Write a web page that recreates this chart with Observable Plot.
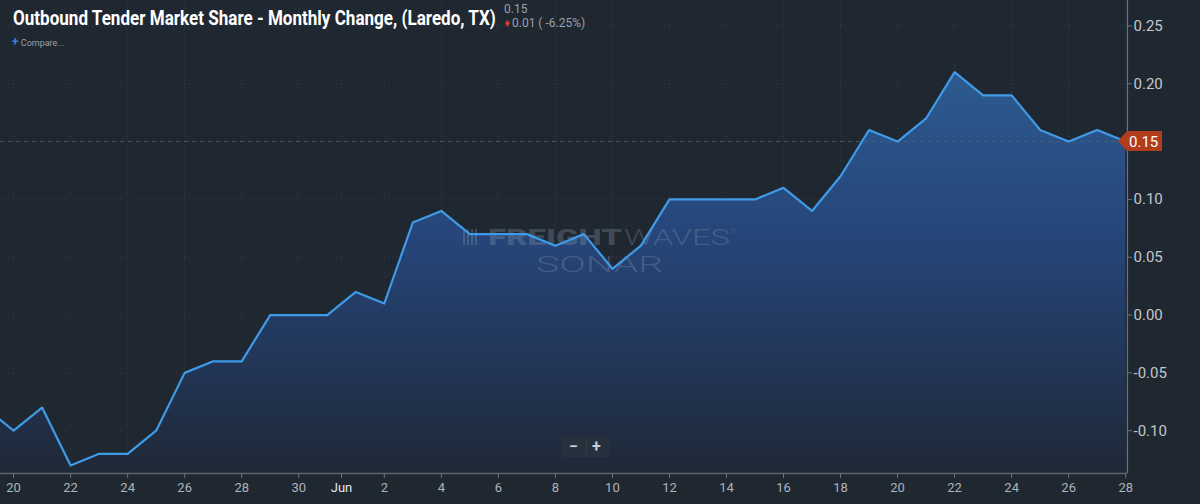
<!DOCTYPE html>
<html>
<head>
<meta charset="utf-8">
<script src="https://cdn.jsdelivr.net/npm/d3@7"></script>
<script src="https://cdn.jsdelivr.net/npm/@observablehq/plot@0.6"></script>
<style>
  html, body { margin: 0; padding: 0; background: #1f2731; }
  #wrap { position: relative; width: 1200px; height: 504px; overflow: hidden; background: #1f2731; }
  .val { position: absolute; color: #9aa1a9; font-family: Roboto, sans-serif; font-size: 12px; line-height: 12px; white-space: nowrap; }
  #dn { position: absolute; left: 505px; top: 20px; width: 5px; height: 7px; background: #e0342c; clip-path: polygon(50% 0, 100% 45%, 50% 100%, 0 45%); }
  #compare { position: absolute; left: 12px; top: 35px; color: #9aa1a9; font-family: Roboto, sans-serif; font-size: 9px; white-space: nowrap; }
  #compare b { color: #3d7fd8; font-size: 12px; font-weight: bold; }
  #zoomctl { position: absolute; left: 562px; top: 437px; width: 48px; height: 20px; background: #27313d; border-radius: 2px; color: #c9cdd1; font-family: Roboto, sans-serif; font-size: 16px; font-weight: bold; line-height: 19px; }
  #zoomctl span { position: absolute; top: 0; }
  #zoomctl i { position: absolute; left: 24px; top: 3px; height: 14px; border-left: 1px dotted #3a4552; }
</style>
</head>
<body>
<div id="wrap">
  <div id="chart"></div>
  <div class="val" style="left:504px; top:3px;">0.15</div>
  <div id="dn"></div>
  <div class="val" style="left:512px; top:17px;">0.01 ( -6.25%)</div>
  <div id="compare"><b>+</b> Compare...</div>
  <div id="zoomctl"><span style="left:7px">&minus;</span><i></i><span style="left:30px">+</span></div>
</div>
<script>
// ---- data ----
const days = [
  "2023-05-19","2023-05-20","2023-05-21","2023-05-22","2023-05-23","2023-05-24","2023-05-25",
  "2023-05-26","2023-05-27","2023-05-28","2023-05-29","2023-05-30","2023-05-31",
  "2023-06-01","2023-06-02","2023-06-03","2023-06-04","2023-06-05","2023-06-06","2023-06-07",
  "2023-06-08","2023-06-09","2023-06-10","2023-06-11","2023-06-12","2023-06-13","2023-06-14",
  "2023-06-15","2023-06-16","2023-06-17","2023-06-18","2023-06-19","2023-06-20","2023-06-21",
  "2023-06-22","2023-06-23","2023-06-24","2023-06-25","2023-06-26","2023-06-27","2023-06-28"
];
const values = [
  -0.08,-0.10,-0.08,-0.13,-0.12,-0.12,-0.10,
  -0.05,-0.04,-0.04,0.00,0.00,0.00,
  0.02,0.01,0.08,0.09,0.07,0.07,0.07,
  0.06,0.07,0.04,0.06,0.10,0.10,0.10,
  0.10,0.11,0.09,0.12,0.16,0.15,0.17,
  0.21,0.19,0.19,0.16,0.15,0.16,0.15
];
const xTickDays = [
  "2023-05-20","2023-05-22","2023-05-24","2023-05-26","2023-05-28","2023-05-30",
  "2023-05-31T12:00Z","2023-06-02","2023-06-04","2023-06-06","2023-06-08","2023-06-10",
  "2023-06-12","2023-06-14","2023-06-16","2023-06-18","2023-06-20","2023-06-22",
  "2023-06-24","2023-06-26","2023-06-28"
];
const xTickLabels = [
  "20","22","24","26","28","30",
  "Jun","2","4","6","8","10",
  "12","14","16","18","20","22",
  "24","26","28"
];
const yTicks = [-0.10,-0.05,0.00,0.05,0.10,0.15,0.20,0.25];
const xDomainDays = ["2023-05-19T13:00Z","2023-06-28T01:30Z"];
const yDomain = [-0.137, 0.272];
const titleText = "Outbound Tender Market Share - Monthly Change, (Laredo, TX)";

const data = days.map((d, i) => ({date: new Date(d), value: values[i]}));
const xTicks = xTickDays.map(d => new Date(d));
const xDomain = xDomainDays.map(d => new Date(d));
const last = data[data.length - 1];
const tickFmt = (d, i) => xTickLabels[i];
// the tick at the last value is hidden under the value badge
const yFmt = d => Math.abs(d - last.value) < 1e-9 ? "" : d.toFixed(2);

const plot = Plot.plot({
  width: 1200,
  height: 504,
  marginLeft: 0,
  marginRight: 73,
  marginTop: 0,
  marginBottom: 31,
  style: {background: "#1f2731", fontFamily: "Roboto, sans-serif", overflow: "visible"},
  x: {type: "utc", domain: xDomain},
  y: {domain: yDomain},
  marks: [
    Plot.gridX(xTicks, {stroke: "#3a4a60", strokeOpacity: 0.6, strokeDasharray: "1,3"}),
    Plot.gridY(yTicks, {stroke: "#3a4a60", strokeOpacity: 0.6, strokeDasharray: "1,3"}),
    Plot.areaY(data, {x: "date", y1: yDomain[0], y2: "value", fill: "url(#areaGrad)", curve: "linear"}),
    Plot.ruleY([last.value], {stroke: "#5a6470", strokeDasharray: "4,4", strokeOpacity: 0.7}),
    Plot.lineY(data, {x: "date", y: "value", stroke: "#3f9be8", strokeWidth: 2.2, curve: "linear"}),
    Plot.ruleY([yDomain[0]], {stroke: "#5d656e", strokeWidth: 1.5}),
    Plot.ruleX([xDomain[1]], {stroke: "#6b737c", strokeWidth: 1.2}),
    Plot.axisX({ticks: xTicks, tickFormat: tickFmt, tickSize: 5, tickPadding: 4, fontSize: 13, color: "#aeb4ba", stroke: "#6b737c", anchor: "bottom", label: null}),
    Plot.axisY({ticks: yTicks, tickFormat: yFmt, anchor: "right", tickSize: 4, tickPadding: 2, fontSize: 15, color: "#c3c7cb", stroke: "#6b737c", textAnchor: "start", label: null})
  ]
});

document.getElementById("chart").appendChild(plot);

const svg = d3.select(plot);
// gradient definition for the area fill
const defs = svg.insert("defs", ":first-child");
const grad = defs.append("linearGradient").attr("id", "areaGrad").attr("x1", 0).attr("y1", 0).attr("x2", 0).attr("y2", 1);
grad.append("stop").attr("offset", "0%").attr("stop-color", "#2d5a90");
grad.append("stop").attr("offset", "40%").attr("stop-color", "#26467a");
grad.append("stop").attr("offset", "70%").attr("stop-color", "#22375a");
grad.append("stop").attr("offset", "100%").attr("stop-color", "#1f2836");

// "Jun" label lighter
svg.selectAll("text").filter(function() { return this.textContent === "Jun"; }).attr("fill", "#e6e8ea");

// watermark, placed beneath the line
const lineG = plot.querySelector('g[aria-label="line"]');
const wm = d3.select(plot.insertBefore(document.createElementNS("http://www.w3.org/2000/svg", "g"), lineG))
  .attr("fill", "#8a97a8").attr("fill-opacity", 0.32).attr("font-family", "Roboto, sans-serif").attr("text-anchor", "start");
wm.append("rect").attr("x", 463).attr("y", 229).attr("width", 2).attr("height", 16);
wm.append("rect").attr("x", 467).attr("y", 229).attr("width", 2).attr("height", 16);
wm.append("rect").attr("x", 471).attr("y", 229).attr("width", 2).attr("height", 16);
wm.append("rect").attr("x", 475).attr("y", 229).attr("width", 2).attr("height", 16);
wm.append("text").attr("x", 488).attr("y", 245).attr("font-size", 22).attr("font-weight", 900)
  .attr("textLength", 134).attr("lengthAdjust", "spacingAndGlyphs").text("FREIGHT");
wm.append("text").attr("x", 624).attr("y", 245).attr("font-size", 22).attr("font-weight", 300)
  .attr("textLength", 106).attr("lengthAdjust", "spacingAndGlyphs").text("WAVES");
wm.append("text").attr("x", 731).attr("y", 233).attr("font-size", 6).text("®");
wm.append("text").attr("x", 536).attr("y", 272).attr("font-size", 22).attr("font-weight", 300)
  .attr("textLength", 127).attr("lengthAdjust", "spacingAndGlyphs").text("SONAR");

// title, condensed horizontally to the reference width
const title = svg.append("text").attr("x", 0).attr("y", 0).attr("text-anchor", "start")
  .attr("fill", "#ffffff").attr("font-family", "Roboto, sans-serif").attr("font-weight", "bold").attr("font-size", 21)
  .text(titleText);
const tw = title.node().getComputedTextLength() || 600;
title.attr("transform", `translate(13,25) scale(${483 / tw},1)`);

// last value badge on right axis
const xs = plot.scale("x"), ys = plot.scale("y");
const bx = xs.apply(xDomain[1]), by = ys.apply(last.value);
svg.append("path")
  .attr("d", `M${bx - 9},${by} L${bx},${by - 10} L${bx + 35},${by - 10} L${bx + 35},${by + 10} L${bx},${by + 10} Z`)
  .attr("fill", "#b23d1d");
svg.append("text").attr("text-anchor", "start")
  .attr("x", bx + 2).attr("y", by + 5.5)
  .attr("fill", "#ffffff").attr("font-size", 15).attr("font-family", "Roboto, sans-serif")
  .text(last.value.toFixed(2));
</script>
</body>
</html>
